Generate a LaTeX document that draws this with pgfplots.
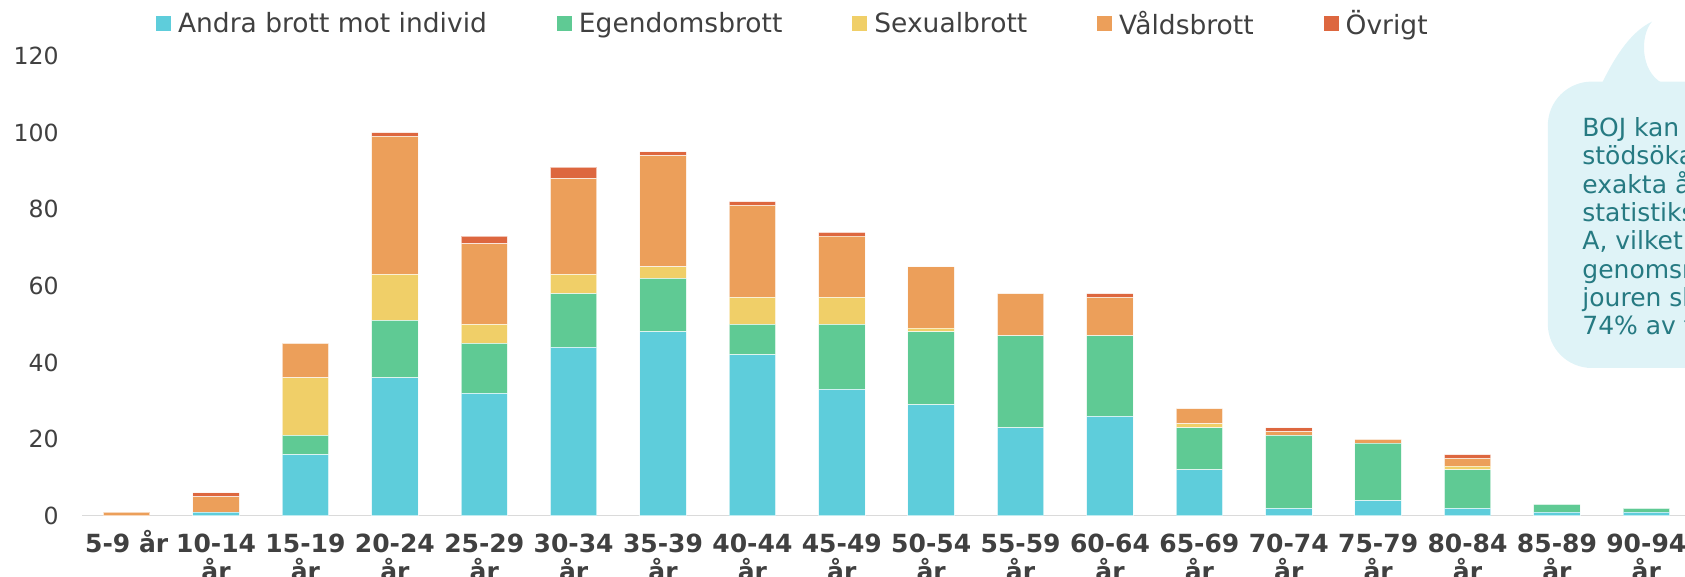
\documentclass[border=0pt]{standalone}
\usepackage{fontspec}
\setmainfont{DejaVu Sans}
\usepackage{pgfplots}
\pgfplotsset{compat=1.18}
\usepackage{pgfplotstable}
\definecolor{cA}{HTML}{5ECDDB}
\definecolor{cE}{HTML}{5FCA94}
\definecolor{cS}{HTML}{F0CF68}
\definecolor{cV}{HTML}{EC9F5A}
\definecolor{cO}{HTML}{DD673F}
\definecolor{txt}{HTML}{404040}
\definecolor{axgray}{HTML}{DADADA}
\definecolor{bub}{HTML}{DFF3F7}
\definecolor{bubtxt}{HTML}{267A82}

\pgfplotstableread{
x A E S V O
0 0 0 0 1 0
1 1 0 0 4 1
2 16 5 15 9 0
3 36 15 12 36 1
4 32 13 5 21 2
5 44 14 5 25 3
6 48 14 3 29 1
7 42 8 7 24 1
8 33 17 7 16 1
9 29 19 1 16 0
10 23 24 0 11 0
11 26 21 0 10 1
12 12 11 1 4 0
13 2 19 0 1 1
14 4 15 0 1 0
15 2 10 1 2 1
16 1 2 0 0 0
17 1 1 0 0 0
}\data

\newcommand\fs{\fontsize{12.5pt}{14.15pt}\selectfont}
\newcommand\fx{\fontsize{12.5pt}{13.85pt}\selectfont}
\newcommand\fl{\fontsize{13.25pt}{15pt}\selectfont}
\newcommand\ft{\fontsize{11.8pt}{14pt}\selectfont}

\begin{document}
\begin{tikzpicture}
\path[use as bounding box] (0pt,0pt) rectangle (842.5pt,288.5pt);
\begin{axis}[
  at={(41pt,30.5pt)}, anchor=south west,
  scale only axis, width=804.5pt, height=230pt,
  xmin=-0.5, xmax=17.5, ymin=0, ymax=120,
  enlargelimits=false,
  ybar stacked, bar width=0.52,
  axis line style={draw=none},
  tick style={draw=none},
  ytick={0,20,40,60,80,100,120},
  yticklabels={0,20,40,60,80,100,120},
  yticklabel style={anchor=east, inner sep=0pt, xshift=-11.5pt, font=\ft, text=txt},
  xtick={0,...,17},
  xticklabels={{5-9 år\\\mbox{}},{10-14\\år},{15-19\\år},{20-24\\år},{25-29\\år},{30-34\\år},{35-39\\år},{40-44\\år},{45-49\\år},{50-54\\år},{55-59\\år},{60-64\\år},{65-69\\år},{70-74\\år},{75-79\\år},{80-84\\år},{85-89\\år},{90-94\\år}},
  xticklabel style={anchor=base, inner sep=0pt, yshift=-32.2pt, align=center, font=\bfseries\fx, text=txt},
  legend columns=5,
  legend style={at={(axis description cs:0.046,1.0696)}, anchor=west, draw=none, fill=none, inner sep=0pt, outer sep=0pt,
    font=\fl, text=txt, nodes={inner sep=0pt},
    /tikz/every odd column/.append style={column sep=3.5pt},
    /tikz/every even column/.append style={column sep=35pt}},
  legend image code/.code={\draw[#1,draw=none] (0pt,-3.75pt) rectangle (7.5pt,3.75pt);},
  every axis plot/.append style={draw=white, draw opacity=0.6, line width=0.5pt},
]
\addplot[fill=cA] table[x=x,y=A]{\data};
\addplot[fill=cE] table[x=x,y=E]{\data};
\addplot[fill=cS] table[x=x,y=S]{\data};
\addplot[fill=cV] table[x=x,y=V]{\data};
\addplot[fill=cO] table[x=x,y=O]{\data};
\legend{Andra brott mot individ,Egendomsbrott,Sexualbrott,Våldsbrott,Övrigt}
\draw[axgray, line width=1.1pt] (axis cs:-0.5,0) -- (axis cs:17.5,0);
\end{axis}
\fill[bub, rounded corners=22pt] (773.9pt,104.5pt) rectangle (900pt,247.7pt);
\fill[bub] (801pt,247pt) .. controls (806pt,257pt) and (814pt,272pt) .. (826pt,277.7pt) .. controls (820pt,271pt) and (820pt,253pt) .. (831pt,247pt) -- cycle;
\begin{scope}[every node/.style={anchor=base west, inner sep=0pt, font=\fs, text=bubtxt}]
\node at (791pt,220.15pt) {BOJ kan inte alltid få};
\node at (791pt,206.0pt) {stödsökandes ålder};
\node at (791pt,191.85pt) {exakta åldern i sin};
\node at (791pt,177.7pt) {statistiksystem};
\node at (791pt,163.55pt) {A, vilket gör att};
\node at (791pt,149.4pt) {genomsnittet för};
\node at (791pt,135.25pt) {jouren skattas i};
\node at (791pt,121.1pt) {74\% av fallen.};
\end{scope}
\end{tikzpicture}
\end{document}
